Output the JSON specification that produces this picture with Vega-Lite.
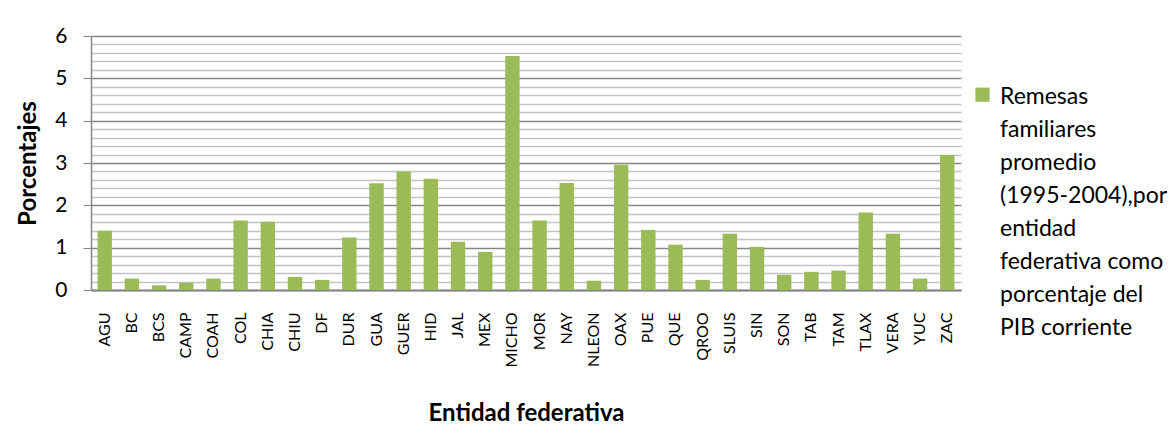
{
  "$schema": "https://vega.github.io/schema/vega-lite/v6.json",
  "autosize": "none",
  "width": 870,
  "height": 254,
  "padding": {"left": 91, "top": 36, "right": 213, "bottom": 149},
  "background": "white",
  "data": {
    "values": [
      {"entidad": "AGU", "valor": 1.40, "serie": "Remesas"},
      {"entidad": "BC", "valor": 0.27, "serie": "Remesas"},
      {"entidad": "BCS", "valor": 0.11, "serie": "Remesas"},
      {"entidad": "CAMP", "valor": 0.17, "serie": "Remesas"},
      {"entidad": "COAH", "valor": 0.27, "serie": "Remesas"},
      {"entidad": "COL", "valor": 1.64, "serie": "Remesas"},
      {"entidad": "CHIA", "valor": 1.61, "serie": "Remesas"},
      {"entidad": "CHIU", "valor": 0.31, "serie": "Remesas"},
      {"entidad": "DF", "valor": 0.24, "serie": "Remesas"},
      {"entidad": "DUR", "valor": 1.24, "serie": "Remesas"},
      {"entidad": "GUA", "valor": 2.52, "serie": "Remesas"},
      {"entidad": "GUER", "valor": 2.80, "serie": "Remesas"},
      {"entidad": "HID", "valor": 2.63, "serie": "Remesas"},
      {"entidad": "JAL", "valor": 1.14, "serie": "Remesas"},
      {"entidad": "MEX", "valor": 0.90, "serie": "Remesas"},
      {"entidad": "MICHO", "valor": 5.53, "serie": "Remesas"},
      {"entidad": "MOR", "valor": 1.64, "serie": "Remesas"},
      {"entidad": "NAY", "valor": 2.53, "serie": "Remesas"},
      {"entidad": "NLEON", "valor": 0.22, "serie": "Remesas"},
      {"entidad": "OAX", "valor": 2.96, "serie": "Remesas"},
      {"entidad": "PUE", "valor": 1.42, "serie": "Remesas"},
      {"entidad": "QUE", "valor": 1.07, "serie": "Remesas"},
      {"entidad": "QROO", "valor": 0.24, "serie": "Remesas"},
      {"entidad": "SLUIS", "valor": 1.33, "serie": "Remesas"},
      {"entidad": "SIN", "valor": 1.02, "serie": "Remesas"},
      {"entidad": "SON", "valor": 0.36, "serie": "Remesas"},
      {"entidad": "TAB", "valor": 0.43, "serie": "Remesas"},
      {"entidad": "TAM", "valor": 0.46, "serie": "Remesas"},
      {"entidad": "TLAX", "valor": 1.83, "serie": "Remesas"},
      {"entidad": "VERA", "valor": 1.33, "serie": "Remesas"},
      {"entidad": "YUC", "valor": 0.27, "serie": "Remesas"},
      {"entidad": "ZAC", "valor": 3.19, "serie": "Remesas"}
    ]
  },
  "mark": {"type": "bar"},
  "encoding": {
    "x": {
      "field": "entidad",
      "type": "nominal",
      "sort": null,
      "scale": {"paddingInner": 0.47, "paddingOuter": 0.24},
      "axis": {
        "title": "Entidad federativa",
        "titleFont": "Lato",
        "titleFontSize": 24,
        "titleFontWeight": "bold",
        "titleColor": "#000000",
        "titlePadding": 34,
        "labelAngle": -90,
        "labelFont": "Lato",
        "labelFontSize": 16,
        "labelColor": "#000000",
        "labelPadding": 22,
        "ticks": false,
        "domainColor": "#868686",
        "domainWidth": 2,
        "grid": false
      }
    },
    "y": {
      "field": "valor",
      "type": "quantitative",
      "scale": {"domain": [0, 6], "nice": false},
      "axis": {
        "title": "Porcentajes",
        "titleFont": "Lato",
        "titleFontSize": 24,
        "titleFontWeight": "bold",
        "titleColor": "#000000",
        "titlePadding": 14,
        "values": [0, 0.2, 0.4, 0.6, 0.8, 1, 1.2, 1.4, 1.6, 1.8, 2, 2.2, 2.4, 2.6, 2.8, 3, 3.2, 3.4, 3.6, 3.8, 4, 4.2, 4.4, 4.6, 4.8, 5, 5.2, 5.4, 5.6, 5.8, 6],
        "labelExpr": "abs(datum.value - round(datum.value)) < 0.001 ? format(datum.value, 'd') : ''",
        "labelFont": "Lato",
        "labelFontSize": 21,
        "labelColor": "#000000",
        "labelPadding": 16,
        "tickSize": 8,
        "tickColor": {"condition": {"test": "abs(datum.value - round(datum.value)) < 0.001", "value": "#868686"}, "value": "transparent"},
        "grid": true,
        "gridColor": {"condition": {"test": "abs(datum.value - round(datum.value)) < 0.001", "value": "#868686"}, "value": "#c4c4c4"},
        "gridWidth": 1.5,
        "domainColor": "#868686",
        "domainWidth": 1.5
      }
    },
    "color": {
      "field": "serie",
      "type": "nominal",
      "scale": {"range": ["#9BBB59"]},
      "legend": {
        "title": null,
        "orient": "none",
        "legendX": 880,
        "legendY": 38,
        "symbolType": "M-1,0.3H1V2.3H-1Z",
        "symbolSize": 200,
        "symbolStrokeWidth": 0,
        "labelFont": "Lato",
        "labelFontSize": 23,
        "labelColor": "#000000",
        "labelLimit": 300,
        "labelOffset": 6,
        "labelBaseline": "top",
        "labelExpr": "['Remesas', 'familiares', 'promedio', '(1995-2004),por', 'entidad', 'federativa como', 'porcentaje del', 'PIB corriente']"
      }
    }
  },
  "config": {
    "view": {"stroke": null},
    "style": {"guide-label": {"lineHeight": 33}}
  }
}
